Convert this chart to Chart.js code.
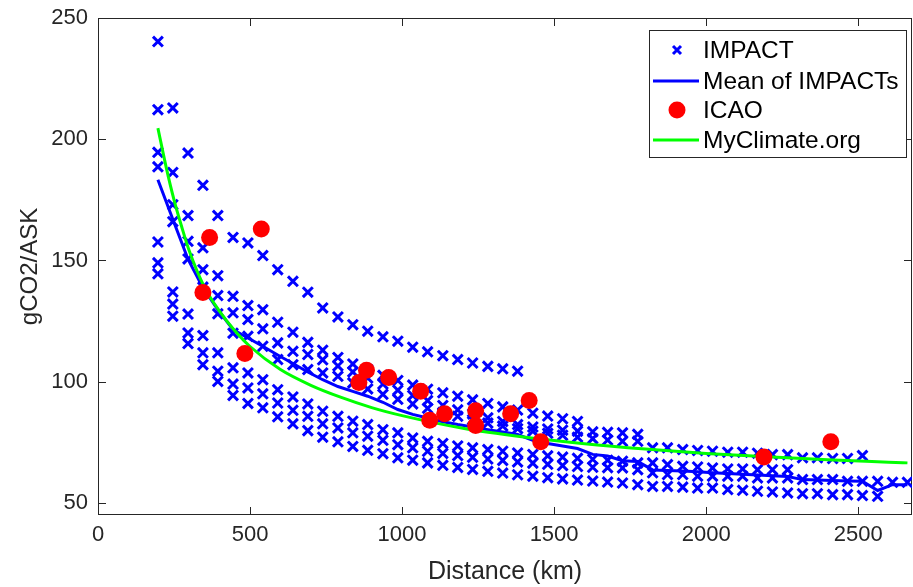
<!DOCTYPE html>
<html><head><meta charset="utf-8">
<script src="https://cdn.jsdelivr.net/npm/chart.js@4.4.1/dist/chart.umd.min.js"></script>
<style>html,body{margin:0;padding:0;background:#fff;overflow:hidden}#wrap{width:913px;height:587px}</style>
</head><body><div id="wrap"><canvas id="c" width="913" height="587"></canvas></div>
<script>
// ---- data ----
const distances = [197, 246, 296, 345, 394, 444, 493, 542, 591, 641, 690, 739, 789, 838, 887, 937, 986, 1035, 1084, 1134, 1183, 1232, 1282, 1331, 1380, 1430, 1479, 1528, 1577, 1627, 1676, 1725, 1775, 1824, 1873, 1923, 1972, 2021, 2071, 2120, 2169, 2218, 2268, 2317, 2366, 2416, 2465, 2514, 2564, 2613, 2662];
const impactT = [240.3, 212.9, 194.3, 181, 168.5, 159.5, 157.2, 152, 146.2, 141.4, 136.9, 130.4, 126.7, 123.5, 120.8, 118.5, 116.7, 114.2, 112.3, 110.7, 109.1, 107.7, 106.3, 105.3, 104.3];
const impactA = [212.2, 186.3, 168.5, 155.2, 143.7, 135.2, 131.4, 129.7, 124.5, 120.4, 116.2, 113, 110, 107.3, 105, 102.6, 100.5, 98.6, 96.9, 95.4, 94, 92.5, 91, 89.6, 88.3, 87, 85.8, 84.7, 83.6];
const impactB = [194.6, 173, 157.9, 146.2, 135.5, 128.4, 125.6, 121.8, 116, 112.5, 111.2, 109, 106.5, 104, 101.5, 99, 96.5, 94.3, 92.2, 90.2, 88.4, 86.7, 85.1, 83.6, 82.3, 81.3, 80.5, 80, 79.6, 79.3, 79.1, 78.9, 78.3];
const impactU = [188.6, 166, 150.6, 139, 128, 120, 118.7, 114.6, 109.1, 107, 105, 103.6, 102.2, 99.5, 97, 94.8, 92.7, 90.8, 89, 87.3, 85.7, 84.3, 82.9, 81.7, 80.6, 79.6, 78.7, 77.9, 77.1, 76.5, 75.9, 75.4, 75.4, 72.7, 72.7, 72, 71.6, 71.3, 70.9, 70.9, 70.5, 69.9, 69.9, 68.6, 68.6, 68.3, 68.3, 69.5];
const impactR = [157.6, 137, 127.9, 119, 111.9, 105.7, 103.6, 100.8, 96.7, 93.7, 90.8, 87.8, 85.7, 83.7, 82.3, 80.2, 78.9, 76.8, 75.4, 74.5, 73.5, 72.7, 72, 71.3, 70.6, 70, 69.4, 68.9, 68.4, 68, 67.6, 67.2, 66.5, 66.5, 65.8, 65.1, 64.8, 64.4, 64, 64, 63.7, 63.7, 63.7];
const impactM = [149, 132, 120.1, 111.9, 104.3, 99, 97.4, 95, 91.2, 88.2, 85.7, 82.6, 80.9, 78.9, 77.5, 75.8, 74, 72.7, 71.3, 70.4, 69.5, 68.8, 68.1, 67.5, 66.9, 66.4, 65.9, 65.4, 65, 64.7, 64.5, 64.4, 63.7, 62.4, 61.7, 61.7, 61, 61, 61, 61, 60.3, 60.3, 60.3, 59.6, 59.6, 59.6, 58.9, 58.9, 58.9, 58.5, 58.5];
const impactL = [144.5, 127, 115.7, 107, 100.1, 94.3, 91, 89.2, 85.5, 82.6, 79.8, 77.1, 75.2, 73.3, 71.7, 70.3, 68.6, 67.6, 66.5, 65.5, 64.6, 63.8, 63, 62.3, 61.6, 61, 60.4, 59.9, 59.4, 59, 58.6, 58.2, 57.5, 56.8, 56.8, 56.5, 56.1, 56.1, 55.5, 55.2, 54.8, 54.5, 54.1, 53.8, 53.8, 53.4, 53.4, 53, 52.7];
const meanImpact = [183.3, 167, 150.5, 138.7, 129.7, 121.5, 118, 114.6, 111, 107.5, 104, 100.8, 98, 96, 94, 91.5, 88.5, 86.5, 85, 83.5, 82.3, 81.3, 80.2, 79.2, 78.2, 75.8, 74.5, 73.5, 72.4, 70, 69.3, 67.4, 67.1, 63.6, 63.4, 63.1, 62.8, 62.4, 62.1, 61.8, 61.5, 61.2, 60.9, 59.6, 59.4, 59.2, 59, 58.9, 55.1, 57.5, 57.5];
const icaoX = [345, 367, 483, 537, 858, 883, 956, 1061, 1091, 1140, 1242, 1242, 1357, 1418, 1456, 2190, 2410];
const icaoY = [136.8, 159.5, 111.6, 163, 99.7, 104.7, 101.7, 96, 84.1, 86.8, 88, 81.9, 86.8, 92.2, 75.2, 68.9, 75.2];
const myClimateX = [197, 225, 250, 275, 300, 350, 400, 450, 500, 600, 700, 800, 900, 1000, 1200, 1400, 1600, 1800, 2000, 2200, 2400, 2600, 2662];
const myClimateY = [204.6, 188, 175, 164, 154, 139, 129, 121, 114.5, 105, 98.5, 93.5, 89.3, 86, 80.8, 77.2, 74.4, 72.2, 70.4, 69, 67.8, 66.8, 66.5];
const xTicks = [0, 500, 1000, 1500, 2000, 2500];
const yTicks = [50, 100, 150, 200, 250];
const legendLabels = ['IMPACT', 'Mean of IMPACTs', 'ICAO', 'MyClimate.org'];

// ---- build ----
const impactSeries = [impactT, impactA, impactB, impactU, impactR, impactM, impactL];
const impactPoints = [];
impactSeries.forEach(s => s.forEach((v, i) => impactPoints.push({x: distances[i], y: v})));
const meanPoints = meanImpact.map((v, i) => ({x: distances[i], y: v}));
const icaoPoints = icaoX.map((x, i) => ({x, y: icaoY[i]}));
const climatePoints = myClimateX.map((x, i) => ({x, y: myClimateY[i]}));

const FONT = '"Liberation Sans", Arial, Helvetica, sans-serif';
const AX = '#262626';

const boxPlugin = {
  id: 'box',
  beforeDatasetsDraw(chart) {
    const {ctx, chartArea: a, scales} = chart;
    ctx.save();
    ctx.strokeStyle = AX; ctx.lineWidth = 1;
    ctx.strokeRect(Math.round(a.left) + 0.5, Math.round(a.top) + 0.5, Math.round(a.right - a.left) - 1, Math.round(a.bottom - a.top) - 1);
    const L = 8;
    ctx.beginPath();
    xTicks.forEach(v => {
      const px = Math.round(scales.x.getPixelForValue(v)) + 0.5;
      ctx.moveTo(px, a.bottom); ctx.lineTo(px, a.bottom - L);
      ctx.moveTo(px, a.top); ctx.lineTo(px, a.top + L);
    });
    yTicks.forEach(v => {
      const py = Math.round(scales.y.getPixelForValue(v)) + 0.5;
      ctx.moveTo(a.left, py); ctx.lineTo(a.left + L, py);
      ctx.moveTo(a.right, py); ctx.lineTo(a.right - L, py);
    });
    ctx.stroke();
    ctx.restore();
  }
};

const legendPlugin = {
  id: 'mlegend',
  afterDraw(chart) {
    const ctx = chart.ctx;
    ctx.save();
    const bx = 649.5, by = 30.5, bw = 257, bh = 127;
    ctx.fillStyle = '#fff'; ctx.fillRect(bx, by, bw, bh);
    ctx.strokeStyle = AX; ctx.lineWidth = 1; ctx.strokeRect(bx, by, bw, bh);
    const rows = [50, 81, 110, 140];
    const mx = 677;
    ctx.strokeStyle = '#0000ff'; ctx.lineWidth = 3;
    ctx.beginPath();
    ctx.moveTo(mx - 4, rows[0] - 4); ctx.lineTo(mx + 4, rows[0] + 4);
    ctx.moveTo(mx + 4, rows[0] - 4); ctx.lineTo(mx - 4, rows[0] + 4);
    ctx.stroke();
    ctx.beginPath(); ctx.moveTo(653, rows[1]); ctx.lineTo(699, rows[1]); ctx.stroke();
    ctx.fillStyle = '#ff0000';
    ctx.beginPath(); ctx.arc(mx, rows[2], 8.5, 0, Math.PI * 2); ctx.fill();
    ctx.strokeStyle = '#00ff00';
    ctx.beginPath(); ctx.moveTo(653, rows[3]); ctx.lineTo(699, rows[3]); ctx.stroke();
    ctx.fillStyle = '#000';
    ctx.font = '24.5px ' + FONT;
    ctx.textBaseline = 'middle'; ctx.textAlign = 'left';
    legendLabels.forEach((t, i) => ctx.fillText(t, 703, rows[i] + 1));
    ctx.restore();
  }
};

new Chart(document.getElementById('c'), {
  type: 'scatter',
  data: {
    datasets: [
      {label: legendLabels[2], data: icaoPoints, order: 0, pointStyle: 'circle', pointRadius: 8.5, pointBackgroundColor: '#ff0000', pointBorderWidth: 0, borderColor: '#ff0000', showLine: false},
      {label: legendLabels[3], data: climatePoints, order: 1, showLine: true, borderColor: '#00ff00', borderWidth: 3, pointRadius: 0, cubicInterpolationMode: 'monotone', fill: false},
      {label: legendLabels[1], data: meanPoints, order: 2, showLine: true, borderColor: '#0000ff', borderWidth: 3, pointRadius: 0, tension: 0, fill: false},
      {label: legendLabels[0], data: impactPoints, order: 3, pointStyle: 'crossRot', pointRadius: 7, pointBorderWidth: 3, pointBorderColor: '#0000ff', borderColor: '#0000ff', showLine: false}
    ]
  },
  options: {
    responsive: false, animation: false, devicePixelRatio: 1,
    layout: {autoPadding: false, padding: {top: 18, right: 1, left: 0, bottom: 0}},
    plugins: {legend: {display: false}, tooltip: {enabled: false}},
    scales: {
      x: {
        type: 'linear', min: 0, max: 2677,
        grid: {display: false, drawTicks: false}, border: {display: false},
        ticks: {color: AX, font: {family: FONT, size: 22}, padding: 7, maxRotation: 0, callback: v => String(v)},
        title: {display: true, text: 'Distance (km)', color: AX, font: {family: FONT, size: 25}, padding: {top: 0, bottom: 0}},
        afterBuildTicks: s => { s.ticks = xTicks.map(v => ({value: v})); },
        afterFit: s => { s.height = 72; s.paddingLeft = 0; s.paddingRight = 0; }
      },
      y: {
        type: 'linear', min: 45, max: 250,
        grid: {display: false, drawTicks: false}, border: {display: false},
        ticks: {color: AX, font: {family: FONT, size: 22}, padding: 10, callback: v => String(v)},
        title: {display: true, text: 'gCO2/ASK', color: AX, font: {family: FONT, size: 24}, padding: {top: 16, bottom: 0}},
        afterBuildTicks: s => { s.ticks = yTicks.map(v => ({value: v})); },
        afterFit: s => { s.width = 98; s.paddingTop = 0; s.paddingBottom = 0; }
      }
    }
  },
  plugins: [boxPlugin, legendPlugin]
});
</script></body></html>
